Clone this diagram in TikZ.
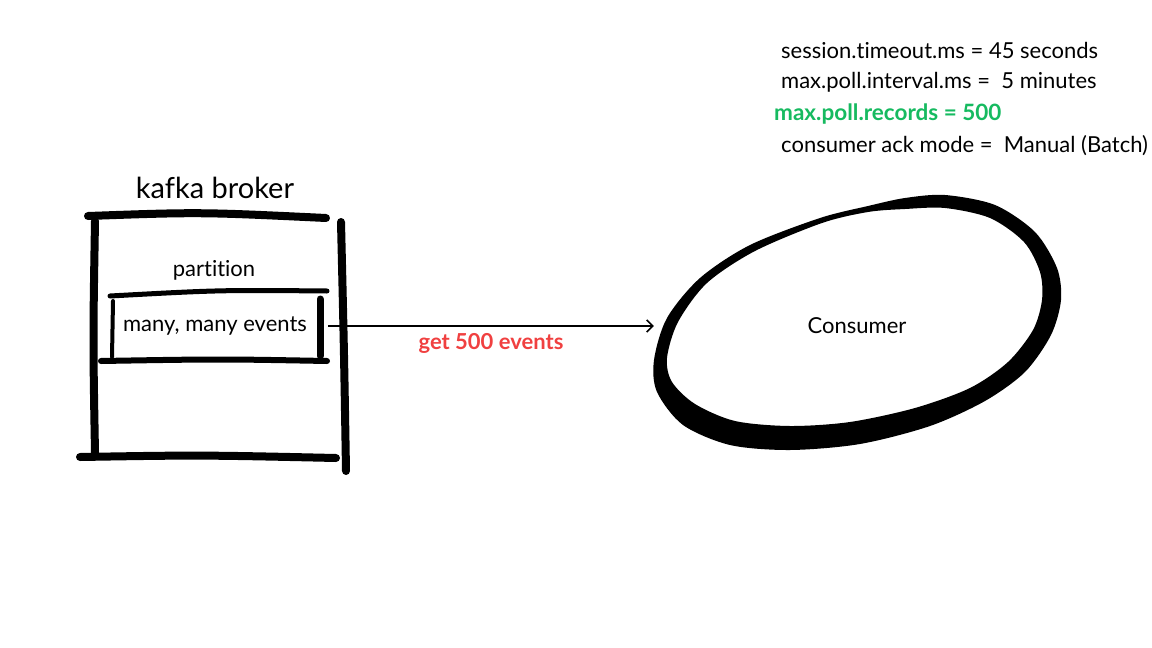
\documentclass[tikz,border=0pt]{standalone}
\usepackage{fontspec}
\setmainfont{Lato}[Ligatures={CommonOff}]
\usepackage{tikz}
\usetikzlibrary{shapes,positioning,arrows.meta}
\definecolor{recgreen}{RGB}{22,186,96}
\definecolor{getred}{RGB}{240,64,64}
\tikzset{brush/.style={line width=8pt,line cap=round},
  thinbrush/.style={line width=5pt,line cap=round},
  txt/.style={font=\fontsize{22}{26}\selectfont,inner sep=0pt},
  cfg/.style={txt,anchor=west}}

\begin{document}
\begin{tikzpicture}[x=1pt,y=-1pt,>={Straight Barb[length=6pt,width=12pt]}]
        \useasboundingbox (0,0) rectangle (1152,648);

        % consumer settings
        \node[cfg] (timeout) at (781,50) {session.timeout.ms = 45 seconds};
        \node[cfg] (interval) at (781,82) {max.poll.interval.ms =\ \ 5 minutes};
        \node[cfg,text=recgreen,font=\fontsize{22.5}{26}\selectfont\bfseries] (records) at (774,114) {max.poll.records = 500};
        \node[cfg] (ackmode) at (781,146) {consumer ack mode =\ \ Manual (Batch)};

        % broker
        \node[txt,font=\fontsize{29}{34}\selectfont] (broker) at (215,188) {kafka broker};
        \draw[brush] (88,216) .. controls (200,212) .. (326,218);
        \draw[brush] (95,221) .. controls (93,340) .. (95,453);
        \draw[brush] (80,457) .. controls (200,455) .. (336,458);
        \draw[brush] (341,222) .. controls (344,350) .. (346,471);
        \node[txt] (partition) at (214,270) {partition};
        \node[txt,minimum width=226pt,minimum height=60pt] (events) at (215,326) {many, many events};
        \draw[thinbrush] (110,296) .. controls (220,290) .. (327,291);
        \draw[thinbrush,line width=4pt] (113,301) -- (112,357);
        \draw[thinbrush,line width=6pt] (101,361) .. controls (220,359) .. (327,361);
        \draw[thinbrush,line width=7pt] (320,299) -- (320,356);

        % consumer
        \node[txt,ellipse,minimum width=406pt,minimum height=250pt] (consumer) at (857,326) {Consumer};
        \fill[even odd rule]
          plot[smooth cycle] coordinates {(905,198) (945,195) (995,205) (1035,232) (1057,268) (1061,300)
            (1051,335) (1025,372) (985,401) (930,426) (860,444) (790,450) (730,445) (683,425)
            (657,392) (654,360) (667,318) (700,278) (750,245) (820,218) (868,206)}
          plot[smooth cycle] coordinates {(905,209) (945,208) (990,218) (1024,242) (1040,272) (1042,300)
            (1033,330) (1008,362) (970,388) (915,408) (850,422) (790,426) (735,421) (695,404)
            (672,382) (667,358) (678,322) (707,283) (755,251) (822,223) (868,212)};

        \draw[->,line width=1.6pt] (events.east) -- (events.east -| consumer.west)
          node[midway,below=7pt,txt,text=getred,font=\fontsize{22}{26}\selectfont\bfseries] (get) {get 500 events};
    \end{tikzpicture}
\end{document}
